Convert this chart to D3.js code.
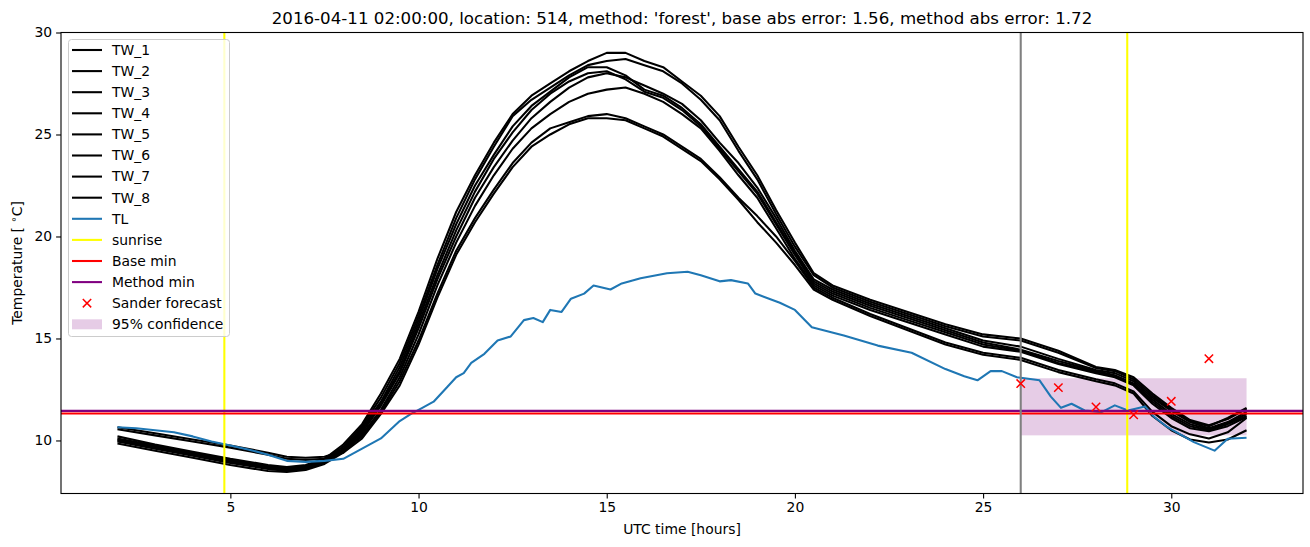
<!DOCTYPE html>
<html>
<head>
<meta charset="utf-8">
<script src="https://cdn.jsdelivr.net/npm/d3@7/dist/d3.min.js"></script>
<style>
  body { margin: 0; background: #fff; }
  text { font-family: 'DejaVu Sans', sans-serif; }
</style>
</head>
<body>
<svg id="root" width="1310" height="547"></svg>
<script>
// time axis for the TW sensors (hours UTC)
const hours = [2, 3, 4, 5, 6, 6.5, 7, 7.5, 8, 8.5, 9, 9.5, 10, 10.5, 11, 11.5, 12, 12.5, 13, 13.5,
  14, 14.5, 15, 15.5, 16, 16.5, 17, 17.5, 18, 18.5, 19, 19.5, 20, 20.5, 21, 22, 23, 24, 25, 26,
  27, 28, 28.5, 29, 29.5, 30, 30.5, 31, 31.5, 32]

const tw1 = [10.2, 9.8, 9.45, 9.1, 8.8, 8.7, 8.8, 9.1, 9.8, 10.8, 12.3, 14.0, 16.3, 18.9, 21.2, 23.0, 24.6, 26.0, 26.9, 27.5,
  28.1, 28.6, 29.0, 29.0, 28.6, 28.3, 27.6, 26.9, 25.9, 24.4, 23.0, 21.3, 19.7, 18.2, 17.6, 16.9, 16.3, 15.7, 15.2, 15.0,
  14.4, 13.6, 13.45, 13.1, 12.3, 11.6, 11.0, 10.75, 11.05, 11.55]
const tw2 = [10.1, 9.75, 9.4, 9.05, 8.75, 8.65, 8.75, 9.05, 9.7, 10.7, 12.1, 13.8, 16.1, 18.6, 20.9, 22.8, 24.4, 25.9, 26.7, 27.3,
  27.9, 28.4, 28.6, 28.7, 28.4, 28.1, 27.5, 26.7, 25.7, 24.2, 22.8, 21.1, 19.5, 18.1, 17.5, 16.8, 16.2, 15.6, 15.1, 14.9,
  14.3, 13.55, 13.4, 13.0, 12.2, 11.5, 10.95, 10.7, 11.1, 11.6]
const tw3 = [10.05, 9.7, 9.35, 9.0, 8.7, 8.6, 8.7, 9.0, 9.6, 10.6, 11.9, 13.6, 15.9, 18.4, 20.6, 22.5, 24.0, 25.4, 26.4, 27.1,
  27.8, 28.3, 28.3, 27.9, 27.2, 26.9, 26.3, 25.5, 24.4, 23.3, 22.2, 20.7, 19.2, 17.8, 17.3, 16.6, 16.0, 15.4, 14.8, 14.45,
  13.9, 13.4, 13.2, 12.8, 12.0, 11.3, 10.8, 10.55, 10.85, 11.3]
const tw4 = [10.0, 9.65, 9.3, 8.95, 8.65, 8.55, 8.65, 8.95, 9.55, 10.5, 11.8, 13.4, 15.7, 18.1, 20.3, 22.2, 23.8, 25.1, 26.2, 27.0,
  27.6, 28.0, 28.1, 27.7, 27.1, 26.8, 26.2, 25.4, 24.3, 23.2, 22.1, 20.6, 19.1, 17.7, 17.2, 16.5, 15.9, 15.3, 14.7, 14.4,
  13.8, 13.35, 13.15, 12.75, 11.9, 11.2, 10.7, 10.5, 10.8, 11.2]
const tw5 = [9.95, 9.6, 9.25, 8.9, 8.6, 8.5, 8.6, 8.9, 9.5, 10.4, 11.7, 13.3, 15.5, 17.9, 20.0, 21.9, 23.4, 24.7, 25.8, 26.6,
  27.3, 27.8, 28.0, 27.8, 27.4, 27.0, 26.5, 25.7, 24.6, 23.6, 22.4, 20.9, 19.3, 17.9, 17.4, 16.7, 16.1, 15.5, 14.9, 14.6,
  14.0, 13.45, 13.3, 12.9, 12.1, 11.45, 10.9, 10.6, 10.9, 11.4]
const tw6 = [9.85, 9.5, 9.15, 8.8, 8.5, 8.45, 8.55, 8.85, 9.4, 10.3, 11.5, 13.1, 15.2, 17.6, 19.7, 21.5, 23.0, 24.3, 25.3, 26.0,
  26.6, 27.0, 27.2, 27.3, 27.0, 26.6, 26.0, 25.3, 24.2, 23.0, 21.9, 20.4, 18.9, 17.6, 17.1, 16.4, 15.8, 15.2, 14.6, 14.35,
  13.75, 13.3, 13.1, 12.7, 11.8, 11.1, 10.6, 10.45, 10.7, 11.15]
const tw7 = [10.65, 10.35, 10.05, 9.75, 9.4, 9.2, 9.15, 9.2, 9.5, 10.2, 11.4, 12.9, 14.9, 17.2, 19.3, 20.9, 22.3, 23.6, 24.6, 25.3,
  25.6, 25.9, 26.0, 25.8, 25.4, 25.0, 24.4, 23.8, 22.9, 21.9, 21.0, 20.0, 18.8, 17.5, 17.0, 16.2, 15.5, 14.8, 14.3, 14.05,
  13.45, 13.0, 12.8, 12.4, 11.4, 10.7, 10.3, 10.1, 10.4, 11.1]
const tw8 = [10.55, 10.25, 9.95, 9.65, 9.3, 9.1, 9.05, 9.1, 9.4, 10.1, 11.3, 12.7, 14.7, 17.0, 19.1, 20.7, 22.1, 23.4, 24.4, 25.0,
  25.5, 25.8, 25.8, 25.7, 25.3, 24.9, 24.3, 23.7, 22.8, 21.8, 20.7, 19.7, 18.6, 17.4, 16.9, 16.1, 15.4, 14.7, 14.2, 13.95,
  13.35, 12.9, 12.7, 12.3, 11.2, 10.5, 10.05, 9.9, 10.05, 10.5]

// air temperature TL
const tlHours = [2, 2.5, 3, 3.5, 4, 4.5, 5, 5.5, 6, 6.5, 7, 7.5, 8, 8.5, 9, 9.5, 9.8, 10.1, 10.4, 10.75,
  11, 11.2, 11.4, 11.75, 12.1, 12.45, 12.8, 13.05, 13.3, 13.5, 13.8, 14.05, 14.4, 14.65, 15.1, 15.4, 15.9, 16.6, 17.15, 17.5,
  18, 18.3, 18.75, 18.95, 19.6, 20, 20.45, 21.3, 22.2, 23.1, 24, 24.5, 24.85, 25.2, 25.5, 25.9, 26.5, 26.8, 27.07, 27.35,
  27.7, 28.15, 28.5, 28.85, 29.3, 29.55, 29.9, 30.6, 31.15, 31.5, 32]
const tl = [10.65, 10.6, 10.5, 10.4, 10.2, 9.95, 9.75, 9.55, 9.3, 9.0, 8.95, 9.0, 9.1, 9.6, 10.1, 10.95, 11.3, 11.6, 11.9, 12.6,
  13.1, 13.3, 13.8, 14.25, 14.9, 15.1, 15.9, 16.0, 15.8, 16.4, 16.3, 16.95, 17.2, 17.6, 17.4, 17.7, 17.95, 18.2, 18.27, 18.1,
  17.8, 17.86, 17.7, 17.2, 16.75, 16.4, 15.55, 15.15, 14.65, 14.3, 13.5, 13.15, 12.95, 13.4, 13.4, 13.1, 12.95, 12.15, 11.6, 11.8,
  11.47, 11.39, 11.72, 11.47, 11.67, 11.15, 10.65, 9.92, 9.5, 10.08, 10.13]

const sunrise = [4.84, 28.83]
const baseMin = 11.32
const methodMin = 11.45
const nowHour = 26
const forecastHours = [26, 27, 28, 29, 30, 31]
const forecast = [12.79, 12.59, 11.64, 11.26, 11.92, 14.01]
const confHours = [26, 32]
const confRange = [10.25, 13.05]

const xTicks = [5, 10, 15, 20, 25, 30]
const yTicks = [10, 15, 20, 25, 30]
const twNames = ['TW_1', 'TW_2', 'TW_3', 'TW_4', 'TW_5', 'TW_6', 'TW_7', 'TW_8']
const twSeries = [tw1, tw2, tw3, tw4, tw5, tw6, tw7, tw8]

let root = d3.select('#root')
let m = { left: 61, right: 1303, top: 32.5, bottom: 493.5 }
let lw = 2.08 // 1.5pt

let x = d3.scaleLinear().domain([0.5, 33.5]).range([m.left, m.right])
let y = d3.scaleLinear().domain([7.4, 30]).range([m.bottom, m.top])

root.append('defs').append('clipPath').attr('id', 'clip')
  .append('rect')
  .attr('x', m.left).attr('y', m.top)
  .attr('width', m.right - m.left).attr('height', m.bottom - m.top)

let plot = root.append('g').attr('clip-path', 'url(#clip)')

// 95% confidence band
plot.append('rect')
  .attr('x', x(confHours[0]))
  .attr('width', x(confHours[1]) - x(confHours[0]))
  .attr('y', y(confRange[1]))
  .attr('height', y(confRange[0]) - y(confRange[1]))
  .attr('fill', 'purple')
  .attr('fill-opacity', 0.2)

let line = d3.line().x((d) => x(d[0])).y((d) => y(d[1]))

twSeries.forEach((s) => {
  plot.append('path')
    .attr('d', line(hours.map((h, i) => [h, s[i]])))
    .attr('fill', 'none')
    .attr('stroke', 'black')
    .attr('stroke-width', lw)
    .attr('stroke-linejoin', 'round')
})

plot.append('path')
  .attr('d', line(tlHours.map((h, i) => [h, tl[i]])))
  .attr('fill', 'none')
  .attr('stroke', '#1f77b4')
  .attr('stroke-width', lw)
  .attr('stroke-linejoin', 'round')

sunrise.forEach((s) => {
  plot.append('line')
    .attr('x1', x(s)).attr('x2', x(s))
    .attr('y1', m.top).attr('y2', m.bottom)
    .attr('stroke', 'yellow')
    .attr('stroke-width', lw)
})

plot.append('line')
  .attr('x1', m.left).attr('x2', m.right)
  .attr('y1', y(baseMin)).attr('y2', y(baseMin))
  .attr('stroke', 'red').attr('stroke-width', lw)

plot.append('line')
  .attr('x1', m.left).attr('x2', m.right)
  .attr('y1', y(methodMin)).attr('y2', y(methodMin))
  .attr('stroke', 'purple').attr('stroke-width', lw)

plot.append('line')
  .attr('x1', x(nowHour)).attr('x2', x(nowHour))
  .attr('y1', m.top).attr('y2', m.bottom)
  .attr('stroke', 'grey').attr('stroke-width', lw)

let cross = (g, cx, cy, r) => {
  g.append('path')
    .attr('d', `M${cx - r},${cy - r}L${cx + r},${cy + r}M${cx - r},${cy + r}L${cx + r},${cy - r}`)
    .attr('stroke', 'red')
    .attr('stroke-width', 1.5)
}
forecastHours.forEach((h, i) => cross(plot, x(h), y(forecast[i]), 4.2))

// axes
let xAxis = root.append('g')
  .attr('transform', `translate(0,${m.bottom})`)
  .call(d3.axisBottom(x).tickValues(xTicks).tickSize(4.9).tickPadding(4).tickSizeOuter(0))
let yAxis = root.append('g')
  .attr('transform', `translate(${m.left},0)`)
  .call(d3.axisLeft(y).tickValues(yTicks).tickSize(4.9).tickPadding(4).tickSizeOuter(0))

;[xAxis, yAxis].forEach((a) => {
  a.select('.domain').remove()
  a.selectAll('text').attr('font-size', 13.9).attr('fill', 'black')
    .attr('font-family', "'DejaVu Sans', sans-serif")
  a.selectAll('line').attr('stroke', 'black').attr('stroke-width', 1.1)
})

root.append('rect')
  .attr('x', m.left).attr('y', m.top)
  .attr('width', m.right - m.left).attr('height', m.bottom - m.top)
  .attr('fill', 'none').attr('stroke', 'black').attr('stroke-width', 1.1)

root.append('text')
  .attr('x', (m.left + m.right) / 2).attr('y', 24)
  .attr('text-anchor', 'middle').attr('font-size', 16.67)
  .text("2016-04-11 02:00:00, location: 514, method: 'forest', base abs error: 1.56, method abs error: 1.72")

root.append('text')
  .attr('x', (m.left + m.right) / 2).attr('y', 534)
  .attr('text-anchor', 'middle').attr('font-size', 13.9)
  .text('UTC time [hours]')

let yl = root.append('text')
  .attr('transform', `translate(22,${(m.top + m.bottom) / 2}) rotate(-90)`)
  .attr('text-anchor', 'middle').attr('font-size', 13.9)
yl.append('tspan').text('Temperature [ ')
yl.append('tspan').attr('font-size', 10).attr('dy', -5).text('∘')
yl.append('tspan').attr('dy', 5).text('C]')

// legend
let lg = root.append('g')
lg.append('rect')
  .attr('x', 68.5).attr('y', 39.5).attr('width', 161).attr('height', 297)
  .attr('rx', 3)
  .attr('fill', 'white').attr('fill-opacity', 0.8)
  .attr('stroke', '#cccccc').attr('stroke-width', 1)

let entries = twNames.map((n) => ({ label: n, kind: 'line', color: 'black' }))
  .concat([
    { label: 'TL', kind: 'line', color: '#1f77b4' },
    { label: 'sunrise', kind: 'line', color: 'yellow' },
    { label: 'Base min', kind: 'line', color: 'red' },
    { label: 'Method min', kind: 'line', color: 'purple' },
    { label: 'Sander forecast', kind: 'cross', color: 'red' },
    { label: '95% confidence', kind: 'patch', color: 'purple' }
  ])

entries.forEach((e, i) => {
  let cy = 50 + i * 21.1
  if (e.kind === 'line') {
    lg.append('line')
      .attr('x1', 72).attr('x2', 102).attr('y1', cy).attr('y2', cy)
      .attr('stroke', e.color).attr('stroke-width', lw)
  } else if (e.kind === 'cross') {
    cross(lg, 87, cy, 4.2)
  } else {
    lg.append('rect')
      .attr('x', 72).attr('y', cy - 5).attr('width', 30).attr('height', 10)
      .attr('fill', e.color).attr('fill-opacity', 0.2)
  }
  lg.append('text')
    .attr('x', 112).attr('y', cy).attr('dy', '0.35em')
    .attr('font-size', 13.9)
    .text(e.label)
})
</script>
</body>
</html>
